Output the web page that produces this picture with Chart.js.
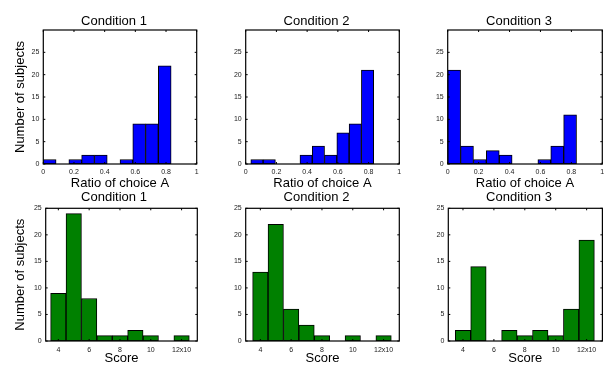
<!DOCTYPE html>
<html>
<head>
<meta charset="utf-8">
<script src="https://cdn.jsdelivr.net/npm/chart.js@4.4.1/dist/chart.umd.min.js"></script>
<style>
  html, body { margin: 0; padding: 0; background: #fff; overflow: hidden; width: 605px; height: 366px; position: relative; }
  canvas { position: absolute; }
</style>
</head>
<body>
<script>
// --------------------
// DATA
// --------------------
const conditionTitles = ["Condition 1", "Condition 2", "Condition 3"];

// ratio of choice A histograms (bin centres)
const ratioCenters1 = [0.0417, 0.125, 0.2083, 0.2917, 0.375, 0.4583, 0.5417, 0.625, 0.7083, 0.7917];
const ratioCenters2 = [0.0733, 0.1533, 0.2333, 0.3133, 0.3933, 0.4733, 0.5533, 0.6333, 0.7133, 0.7933];
const ratioCenters3 = [0.0417, 0.125, 0.2083, 0.2917, 0.375, 0.4583, 0.5417, 0.625, 0.7083, 0.7917];
const ratioCounts1 = [1, 0, 1, 2, 2, 0, 1, 9, 9, 22];
const ratioCounts2 = [1, 1, 0, 0, 2, 4, 2, 7, 9, 21];
const ratioCounts3 = [21, 4, 1, 3, 2, 0, 0, 1, 4, 11];
const ratioTicks = [0, 0.2, 0.4, 0.6, 0.8, 1];
const ratioTickLabels = ["0", "0.2", "0.4", "0.6", "0.8", "1"];

// score histograms
const scoreCenters = [4, 5, 6, 7, 8, 9, 10, 11, 12];
const scoreCounts1 = [9, 24, 8, 1, 1, 2, 1, 0, 1];
const scoreCounts2 = [13, 22, 6, 3, 1, 0, 1, 0, 1];
const scoreCounts3 = [2, 14, 0, 2, 1, 2, 1, 6, 19];
const scoreTicks = [4, 6, 8, 10, 12];
const scoreTickLabels = ["4", "6", "8", "10", "12x10"];

const countTicks = [0, 5, 10, 15, 20, 25];

// --------------------
// LAYOUT (pixels)
// --------------------
const FONT = "'Liberation Sans', Arial, Helvetica, sans-serif";

const panels = [
  { row: 0, left: 0,   width: 228,   axisL: 43.3, axisR: 31.3, centers: ratioCenters1, counts: ratioCounts1, cond: 0, ylabel: true },
  { row: 0, left: 205, width: 223,   axisL: 40.7, axisR: 28.7, centers: ratioCenters2, counts: ratioCounts2, cond: 1 },
  { row: 0, left: 405, width: 227.4, axisL: 42.7, axisR: 30.7, centers: ratioCenters3, counts: ratioCounts3, cond: 2 },
  { row: 1, left: 0,   width: 228,   axisL: 45.7, axisR: 30.7, centers: scoreCenters, counts: scoreCounts1, cond: 0, ylabel: true, xmin: 3.18 },
  { row: 1, left: 205, width: 223,   axisL: 40.7, axisR: 28.7, centers: scoreCenters, counts: scoreCounts2, cond: 1, xmin: 3.05 },
  { row: 1, left: 405, width: 227.6, axisL: 43.3, axisR: 30.6, centers: scoreCenters, counts: scoreCounts3, cond: 2, xmin: 3.05 }
];

const rows = [
  { top: 0,   height: 194, axisB: 30, titlePad: { top: 13.2, bottom: 1.2 }, xTitlePad: 2.7, xTitleLH: 1.2, tickPad: 4.2,
    color: "#0000ff", xlabel: "Ratio of choice A", ymax: 30 },
  { top: 180, height: 186, axisB: 25, titlePad: { top: 9.4, bottom: 3.3 }, xTitlePad: 0, xTitleLH: 1.1, tickPad: 4.4,
    color: "#008000", xlabel: "Score", ymax: 25 }
];

// box round the axes with small inward ticks
const framePlugin = {
  id: "frame",
  afterDatasetsDraw(chart) {
    const { ctx, chartArea: a, scales: { x, y } } = chart;
    ctx.save();
    ctx.strokeStyle = "#000";
    ctx.lineWidth = 1.2;
    ctx.strokeRect(a.left, a.top, a.right - a.left, a.bottom - a.top);
    ctx.beginPath();
    ctx.lineWidth = 1;
    x.ticks.forEach(t => {
      const px = x.getPixelForValue(t.value);
      ctx.moveTo(px, a.bottom); ctx.lineTo(px, a.bottom - 2);
      ctx.moveTo(px, a.top); ctx.lineTo(px, a.top + 2);
    });
    y.ticks.forEach(t => {
      const py = y.getPixelForValue(t.value);
      ctx.moveTo(a.left, py); ctx.lineTo(a.left + 2, py);
      ctx.moveTo(a.right, py); ctx.lineTo(a.right - 2, py);
    });
    ctx.stroke();
    ctx.restore();
  }
};

panels.forEach(p => {
  const r = rows[p.row];
  const canvas = document.createElement("canvas");
  canvas.width = Math.ceil(p.width);
  canvas.height = r.height;
  canvas.style.left = p.left + "px";
  canvas.style.top = r.top + "px";
  document.body.appendChild(canvas);

  const isRatio = p.row === 0;
  const xTicks = isRatio ? ratioTicks : scoreTicks;
  const xTickLabels = isRatio ? ratioTickLabels : scoreTickLabels;

  new Chart(canvas.getContext("2d"), {
    type: "bar",
    data: {
      datasets: [{
        data: p.centers.map((c, i) => ({ x: c, y: p.counts[i] })),
        backgroundColor: r.color,
        borderColor: "#000",
        borderWidth: 1,
        borderSkipped: false,
        barPercentage: 1,
        categoryPercentage: 1
      }]
    },
    options: {
      responsive: false,
      animation: false,
      devicePixelRatio: 1,
      layout: { padding: 0 },
      plugins: {
        legend: { display: false },
        tooltip: { enabled: false },
        title: {
          display: true,
          text: conditionTitles[p.cond],
          color: "#000",
          font: { family: FONT, size: 13, weight: "normal", lineHeight: 1.2 },
          padding: r.titlePad
        }
      },
      scales: {
        x: {
          type: "linear",
          offset: false,
          min: isRatio ? 0 : p.xmin,
          max: isRatio ? 1 : 13.02,
          grid: { display: false, drawTicks: false },
          border: { display: false },
          afterBuildTicks: s => { s.ticks = xTicks.map(v => ({ value: v })); },
          afterFit: s => { s.height = r.axisB; },
          ticks: {
            autoSkip: false,
            maxRotation: 0,
            padding: r.tickPad,
            color: "#222",
            font: { family: FONT, size: 7, lineHeight: 1.2 },
            callback: (v, i) => xTickLabels[i]
          },
          title: {
            display: true,
            text: r.xlabel,
            color: "#000",
            font: { family: FONT, size: 13, lineHeight: r.xTitleLH },
            padding: { top: 0, bottom: r.xTitlePad }
          }
        },
        y: {
          min: 0,
          max: r.ymax,
          grid: { display: false, drawTicks: false },
          border: { display: false },
          afterBuildTicks: s => { s.ticks = countTicks.map(v => ({ value: v })); },
          afterFit: s => { s.width = p.axisL; },
          ticks: {
            padding: 4,
            color: "#222",
            font: { family: FONT, size: 7, lineHeight: 1.2 },
            callback: v => String(v)
          },
          title: {
            display: !!p.ylabel,
            text: "Number of subjects",
            color: "#000",
            font: { family: FONT, size: 13, lineHeight: 1.2 },
            padding: { top: 12.2, bottom: 0 }
          }
        },
        // empty right axis only keeps the plot clear of the canvas edge
        yRight: {
          position: "right",
          display: true,
          grid: { display: false, drawTicks: false },
          border: { display: false },
          ticks: { display: false },
          afterFit: s => { s.width = p.axisR; }
        }
      }
    },
    plugins: [framePlugin]
  });
});
</script>
</body>
</html>
